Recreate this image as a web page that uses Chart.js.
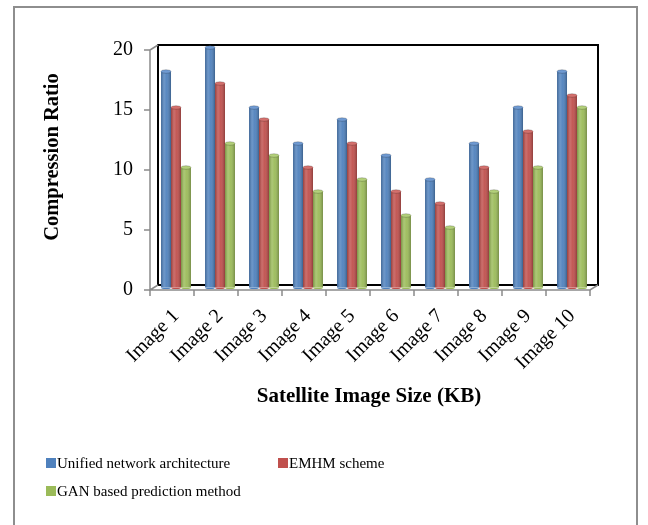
<!DOCTYPE html>
<html>
<head>
<meta charset="utf-8">
<script src="https://cdn.jsdelivr.net/npm/chart.js@4.4.1/dist/chart.umd.min.js"></script>
<style>
  html, body { margin: 0; padding: 0; background: #fff; overflow: hidden; }
  #wrap { position: relative; width: 648px; height: 525px; overflow: hidden; }
  #frame { position: absolute; left: 13px; top: 6px; width: 625px; height: 600px;
           border: 2px solid #8e8e8e; box-sizing: border-box; pointer-events: none; }
  canvas { position: absolute; left: 0; top: 0; }
</style>
</head>
<body>
<div id="wrap">
  <canvas id="c" width="648" height="525"></canvas>
  <div id="frame"></div>
</div>
<script>
// Categories and series
const categories = ['Image 1', 'Image 2', 'Image 3', 'Image 4', 'Image 5',
                    'Image 6', 'Image 7', 'Image 8', 'Image 9', 'Image 10'];
const unifiedNetwork = [18, 20, 15, 12, 14, 11, 9, 12, 15, 18];
const emhmScheme     = [15, 17, 14, 10, 12, 8, 7, 10, 13, 16];
const ganPrediction  = [10, 12, 11, 8, 9, 6, 5, 8, 10, 15];
const seriesNames = ['Unified network architecture', 'EMHM scheme', 'GAN based prediction method'];
const yTicks = [0, 5, 10, 15, 20];
const xTitle = 'Satellite Image Size (KB)';
const yTitle = 'Compression Ratio';

const colors = ['#4F81BD', '#C0504D', '#9BBB59'];
const capColors = ['#6f9ad2', '#d4706d', '#b3d07a'];
const SERIF = '"Liberation Serif", "Times New Roman", serif';
const DX = 4, DY = 2.5; // depth offset of the 3D box

// Back walls and floor of the 3D box, drawn behind the bars
const boxBack = {
  id: 'boxBack',
  beforeDatasetsDraw(chart) {
    const { ctx, chartArea: a } = chart;
    ctx.save();
    ctx.strokeStyle = '#000';
    ctx.lineWidth = 2;
    ctx.beginPath();
    ctx.moveTo(a.left + DX, a.bottom - DY);
    ctx.lineTo(a.left + DX, a.top - DY);
    ctx.lineTo(a.right + DX, a.top - DY);
    ctx.lineTo(a.right + DX, a.bottom - DY);
    ctx.lineTo(a.left + DX, a.bottom - DY);
    ctx.stroke();
    // front axis lines and depth edges
    ctx.strokeStyle = '#8a8a8a';
    ctx.lineWidth = 1.5;
    ctx.beginPath();
    ctx.moveTo(a.left - DX, a.top + DY);
    ctx.lineTo(a.left - DX, a.bottom + DY);
    ctx.lineTo(a.right - DX, a.bottom + DY);
    ctx.lineTo(a.right + DX, a.bottom - DY);
    ctx.moveTo(a.left - DX, a.top + DY);
    ctx.lineTo(a.left + DX, a.top - DY);
    ctx.moveTo(a.left - DX, a.bottom + DY);
    ctx.lineTo(a.left + DX, a.bottom - DY);
    ctx.stroke();
    const ys = chart.scales.y;
    ctx.beginPath();
    yTicks.forEach(v => {
      const py = ys.getPixelForValue(v) + DY;
      ctx.moveTo(a.left - DX - 6, py);
      ctx.lineTo(a.left - DX, py);
    });
    const n = categories.length;
    const step = (a.right - a.left) / n;
    for (let i = 0; i <= n; i++) {
      const px = a.left - DX + i * step;
      ctx.moveTo(px, a.bottom + DY);
      ctx.lineTo(px, a.bottom + DY + 6);
    }
    ctx.stroke();
    ctx.restore();
  }
};

// Cylinder shading over each bar element
const cylinders = {
  id: 'cylinders',
  afterDatasetsDraw(chart) {
    const { ctx } = chart;
    ctx.save();
    chart.data.datasets.forEach((ds, di) => {
      const meta = chart.getDatasetMeta(di);
      meta.data.forEach(bar => {
        const { x, y, base, width } = bar.getProps(['x', 'y', 'base', 'width'], true);
        const l = x - width / 2, r = x + width / 2;
        const g = ctx.createLinearGradient(l, 0, r, 0);
        g.addColorStop(0, 'rgba(0,0,0,0.2)');
        g.addColorStop(0.3, 'rgba(255,255,255,0.18)');
        g.addColorStop(0.55, 'rgba(255,255,255,0.06)');
        g.addColorStop(1, 'rgba(0,0,0,0.26)');
        ctx.fillStyle = g;
        ctx.fillRect(l, y, width, base - y);
        ctx.fillStyle = colors[di];
        ctx.beginPath();
        ctx.ellipse(x, base, width / 2, 1.6, 0, 0, Math.PI);
        ctx.fill();
        ctx.fillStyle = capColors[di];
        ctx.strokeStyle = 'rgba(0,0,0,0.25)';
        ctx.lineWidth = 0.8;
        ctx.beginPath();
        ctx.ellipse(x, y, width / 2, 1.8, 0, 0, Math.PI * 2);
        ctx.fill();
        ctx.stroke();
      });
    });
    ctx.restore();
  }
};

// Axis titles and legend block
const annotations = {
  id: 'annotations',
  afterDraw(chart) {
    const { ctx } = chart;
    ctx.save();
    ctx.fillStyle = '#000';
    ctx.textAlign = 'center';
    ctx.textBaseline = 'middle';
    ctx.font = 'bold 21px ' + SERIF;
    ctx.fillText(xTitle, 369, 397);
    ctx.save();
    ctx.translate(53, 157);
    ctx.rotate(-Math.PI / 2);
    ctx.font = 'bold 20.5px ' + SERIF;
    ctx.fillText(yTitle, 0, 0);
    ctx.restore();

    const spots = [[46, 463], [278, 463], [46, 491]];
    ctx.font = '15px ' + SERIF;
    ctx.textAlign = 'left';
    chart.data.datasets.forEach((ds, i) => {
      const [lx, ly] = spots[i];
      ctx.fillStyle = ds.backgroundColor;
      ctx.fillRect(lx, ly - 5, 10, 10);
      ctx.fillStyle = '#000';
      ctx.fillText(ds.label, lx + 11, ly + 1);
    });
    ctx.restore();
  }
};

new Chart(document.getElementById('c'), {
  type: 'bar',
  data: {
    labels: categories,
    datasets: [
      { label: seriesNames[0], data: unifiedNetwork, backgroundColor: colors[0] },
      { label: seriesNames[1], data: emhmScheme, backgroundColor: colors[1] },
      { label: seriesNames[2], data: ganPrediction, backgroundColor: colors[2] }
    ]
  },
  options: {
    responsive: false,
    animation: false,
    devicePixelRatio: 1,
    layout: { padding: { top: 47.5, right: 54, bottom: 112.5, left: 26 } },
    datasets: { bar: { categoryPercentage: 0.68, barPercentage: 1, borderWidth: 0 } },
    plugins: { legend: { display: false }, tooltip: { enabled: false } },
    scales: {
      x: {
        grid: { display: false, drawTicks: false },
        border: { display: false },
        afterFit(s) { s.height = 125; },
        ticks: {
          color: '#000',
          font: { family: SERIF, size: 20 },
          minRotation: 45, maxRotation: 45,
          padding: 17
        }
      },
      y: {
        min: 0, max: 20,
        grid: { display: false, drawTicks: false },
        border: { display: false },
        afterFit(s) { s.width = 154 - 26; },
        ticks: {
          stepSize: 5, color: '#000',
          font: { family: SERIF, size: 20 },
          padding: 21, labelOffset: 2.5
        }
      }
    }
  },
  plugins: [boxBack, cylinders, annotations]
});
</script>
</body>
</html>
